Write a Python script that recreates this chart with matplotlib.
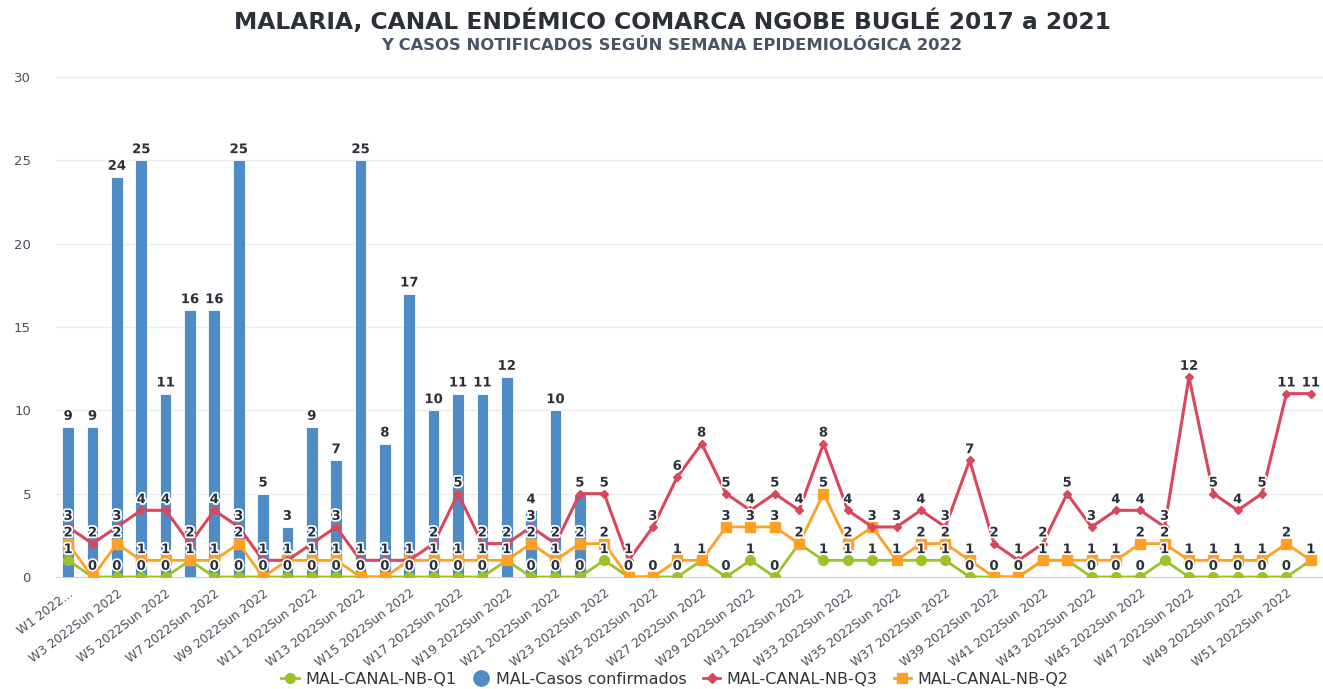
import matplotlib
matplotlib.use("Agg")
import matplotlib.pyplot as plt
import matplotlib.patheffects as pe
from matplotlib.lines import Line2D
import numpy as np

weeks = [f"W{i} 2022Sun 2022" for i in range(1, 53)]
weeks[0] = "W1 2022..."

casos = [9, 9, 24, 25, 11, 16, 16, 25, 5, 3, 9, 7, 25, 8, 17, 10, 11, 11, 12, 4, 10, 5]

q3 = [3, 2, 3, 4, 4, 2, 4, 3, 1, 1, 2, 3, 1, 1, 1, 2, 5, 2, 2, 3, 2, 5,
      5, 1, 3, 6, 8, 5, 4, 5, 4, 8, 4, 3, 3, 4, 3, 7, 2, 1, 2, 5, 3, 4, 4, 3,
      12, 5, 4, 5, 11, 11]
q2 = [2, 0, 2, 1, 1, 1, 1, 2, 0, 1, 1, 1, 0, 0, 1, 1, 1, 1, 1, 2, 1, 2,
      2, 0, 0, 1, 1, 3, 3, 3, 2, 5, 2, 3, 1, 2, 2, 1, 0, 0, 1, 1, 1, 1, 2, 2,
      1, 1, 1, 1, 2, 1]
q1 = [1, 0, 0, 0, 0, 1, 0, 0, 0, 0, 0, 0, 0, 0, 0, 0, 0, 0, 1, 0, 0, 0,
      1, 0, 0, 0, 1, 0, 1, 0, 2, 1, 1, 1, 1, 1, 1, 0, 0, 0, 1, 1, 0, 0, 0, 1,
      0, 0, 0, 0, 0, 1]

c_bar = "#4f8bc5"
c_q3 = "#d9475c"
c_q2 = "#ffa024"
c_q1 = "#9dc228"
txt = "#2b2f38"

fig = plt.figure(figsize=(13.23, 6.89), dpi=100)
ax = fig.add_axes([0.0423, 0.1626, 0.9577, 0.7257])

x = np.arange(len(weeks))
xb = np.arange(len(casos))
ax.bar(xb, casos, width=0.48, color=c_bar, zorder=2, edgecolor="white", linewidth=0.6)

ax.plot(x, q1, color=c_q1, lw=2, marker="o", ms=7, zorder=3)
ax.plot(x, q2, color=c_q2, lw=2, marker="s", ms=7.5, zorder=4)
ax.plot(x, q3, color=c_q3, lw=2.2, marker="D", ms=4.5, zorder=5)

halo = [pe.withStroke(linewidth=2.5, foreground="white")]
lab_kw = dict(ha="center", va="bottom", fontsize=9.5, fontweight="bold", color=txt,
              path_effects=halo, zorder=10)

for i, v in enumerate(casos):
    ax.annotate(str(v), (i, v), xytext=(0, 3), textcoords="offset points", **lab_kw)

for i in range(len(weeks)):
    shown = set()
    for series in (q3, q2, q1):
        v = series[i]
        if v in shown:
            continue
        shown.add(v)
        ax.annotate(str(v), (i, v), xytext=(0, 3), textcoords="offset points", **lab_kw)

ax.set_xlim(-0.5, len(weeks) - 0.5)
ax.set_ylim(0, 30)
ax.set_yticks(range(0, 31, 5))
ax.set_xticks(x[::2])
ax.set_xticklabels(weeks[::2], rotation=37, ha="right", rotation_mode="anchor",
                   fontsize=8.8, color="#4a4f5a")
ax.tick_params(axis="x", length=0, pad=7)
ax.tick_params(axis="y", length=0, labelsize=9.5, labelcolor="#4a4f5a", pad=18)
ax.grid(axis="y", color="#ececec", lw=1, zorder=0)
ax.set_axisbelow(True)
for s in ("top", "right", "left"):
    ax.spines[s].set_visible(False)
ax.spines["bottom"].set_color("#c8d0e0")
ax.spines["bottom"].set_zorder(1)

fig.text(0.508, 0.969, "MALARIA, CANAL ENDÉMICO COMARCA NGOBE BUGLÉ 2017 a 2021",
         ha="center", va="center", fontsize=16.8, fontweight="bold", color="#2b2f38")
fig.text(0.508, 0.934, "Y CASOS NOTIFICADOS SEGÚN SEMANA EPIDEMIOLÓGICA 2022",
         ha="center", va="center", fontsize=11.8, fontweight="bold", color="#4a5468")

handles = [
    Line2D([], [], color=c_q1, lw=2, marker="o", ms=7),
    Line2D([], [], color="none", marker="o", ms=11, markerfacecolor=c_bar, markeredgecolor=c_bar),
    Line2D([], [], color=c_q3, lw=2, marker="D", ms=5),
    Line2D([], [], color=c_q2, lw=2, marker="s", ms=7),
]
labels = ["MAL-CANAL-NB-Q1", "MAL-Casos confirmados", "MAL-CANAL-NB-Q3", "MAL-CANAL-NB-Q2"]
fig.legend(handles, labels, loc="center", bbox_to_anchor=(0.51, 0.014), ncol=4,
           frameon=False, fontsize=11.5, handlelength=1.1, handletextpad=0.4,
           columnspacing=1.0, labelcolor="#333333")

fig.savefig("out.png", dpi=100, facecolor="white")
